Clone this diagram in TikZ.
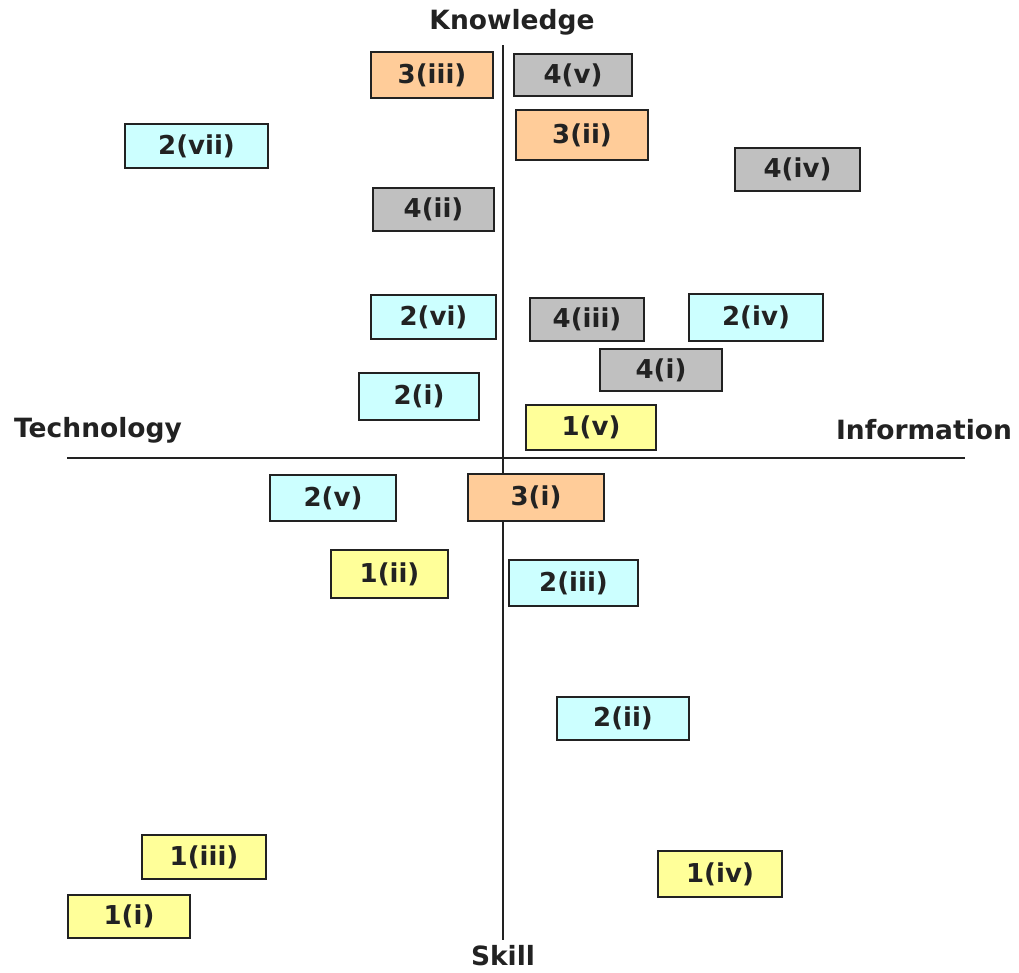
\documentclass[tikz,border=0pt]{standalone}
\usepackage{fontspec}
\setmainfont{DejaVu Sans}
\definecolor{cyanbox}{HTML}{CCFFFF}
\definecolor{yellowbox}{HTML}{FFFF99}
\definecolor{orangebox}{HTML}{FFCC99}
\definecolor{graybox}{HTML}{C0C0C0}
\definecolor{ink}{HTML}{222222}
\begin{document}
\begin{tikzpicture}[x=1pt,y=-1pt,
  lbl/.style={font=\fontsize{26}{30}\selectfont\bfseries, text=ink},
  axislabel/.style={font=\fontsize{26.5}{30}\selectfont\bfseries, text=ink, inner sep=0pt},
  axis/.style={line width=1.5pt, draw=ink},
  cy/.style={draw=ink, line width=1.5pt, fill=cyanbox},
  ye/.style={draw=ink, line width=1.5pt, fill=yellowbox},
  orb/.style={draw=ink, line width=1.5pt, fill=orangebox},
  gr/.style={draw=ink, line width=1.5pt, fill=graybox}]
\useasboundingbox (0,0) rectangle (1019,972);
% axes
\coordinate (top) at (503,45);
\coordinate (bot) at (503,940);
\coordinate (left) at (67,458);
\coordinate (right) at (965,458);
\draw[axis] (top) -- (bot);
\draw[axis] (left) -- (right);
% axis labels
\node[axislabel] (knowledge) at (512,22) {Knowledge};
\node[axislabel] (technology) at (98,430) {Technology};
\node[axislabel] (information) at (924,430) {Information};
\node[axislabel] (skill) at (503,956) {Skill};
% boxes
\newcommand{\bx}[7]{%
  \draw[#1] (#2,#3) rectangle (#4,#5);
  \node[lbl] (#6) at ({(#2+#4)/2},{(#3+#5)/2}) {#7};}
\bx{orb}{371}{52}{493}{98}{b3iii}{3(iii)}
\bx{gr}{514}{54}{632}{96}{b4v}{4(v)}
\bx{orb}{516}{110}{648}{160}{b3ii}{3(ii)}
\bx{cy}{125}{124}{268}{168}{b2vii}{2(vii)}
\bx{gr}{735}{148}{860}{191}{b4iv}{4(iv)}
\bx{gr}{373}{188}{494}{231}{b4ii}{4(ii)}
\bx{cy}{371}{295}{496}{339}{b2vi}{2(vi)}
\bx{gr}{530}{298}{644}{341}{b4iii}{4(iii)}
\bx{cy}{689}{294}{823}{341}{b2iv}{2(iv)}
\bx{gr}{600}{349}{722}{391}{b4i}{4(i)}
\bx{cy}{359}{373}{479}{420}{b2i}{2(i)}
\bx{ye}{526}{405}{656}{450}{b1v}{1(v)}
\bx{cy}{270}{475}{396}{521}{b2v}{2(v)}
\bx{orb}{468}{474}{604}{521}{b3i}{3(i)}
\bx{ye}{331}{550}{448}{598}{b1ii}{1(ii)}
\bx{cy}{509}{560}{638}{606}{b2iii}{2(iii)}
\bx{cy}{557}{697}{689}{740}{b2ii}{2(ii)}
\bx{ye}{142}{835}{266}{879}{b1iii}{1(iii)}
\bx{ye}{658}{851}{782}{897}{b1iv}{1(iv)}
\bx{ye}{68}{895}{190}{938}{b1i}{1(i)}
\end{tikzpicture}
\end{document}
